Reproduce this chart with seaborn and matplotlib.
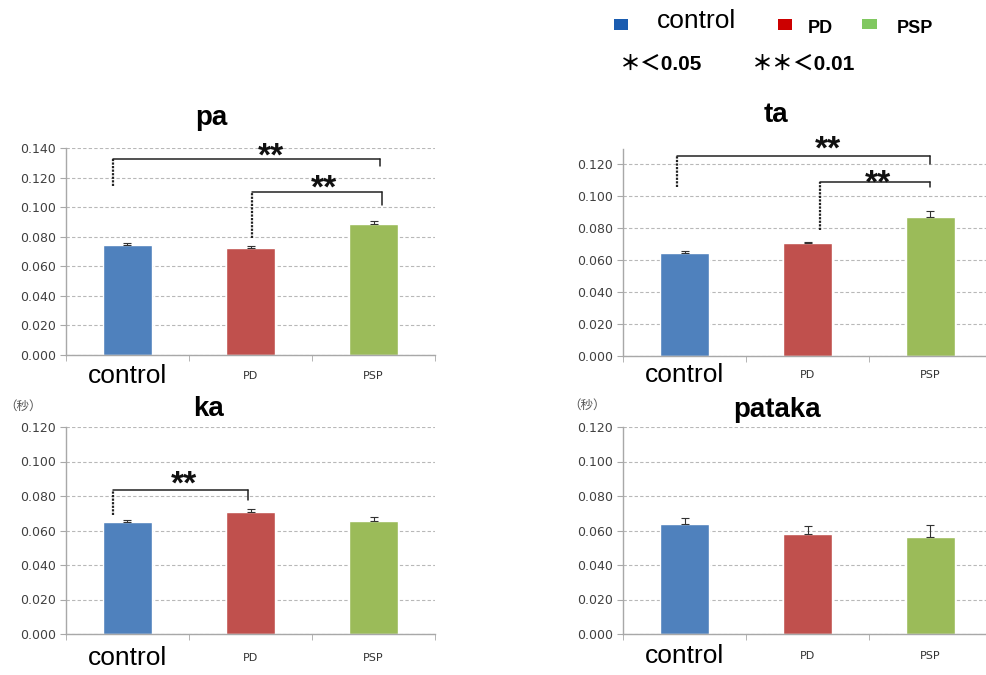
import numpy as np
import pandas as pd
import matplotlib
matplotlib.use("Agg")
import matplotlib.pyplot as plt
from matplotlib.patches import Rectangle
import seaborn as sns

### data (seconds)
groups = ["control", "PD", "PSP"]

pa_mean = [0.0744, 0.0726, 0.0884]
pa_err = [0.0014, 0.0010, 0.0022]
ta_mean = [0.0642, 0.0704, 0.0871]
ta_err = [0.0017, 0.0008, 0.0035]
ka_mean = [0.0647, 0.0707, 0.0655]
ka_err = [0.0012, 0.0016, 0.0025]
pataka_mean = [0.0640, 0.0580, 0.0564]
pataka_err = [0.0031, 0.0046, 0.0066]

### significance brackets: (x_left, x_right, y_top, left_leg_bottom, right_leg_bottom, star_x, star_y)
pa_sig = [(-0.12, 2.05, 0.1326, 0.114, 0.128, 1.17, 0.1384),
          (1.01, 2.07, 0.1102, 0.079, 0.1014, 1.60, 0.1170)]
ta_sig = [(-0.06, 2.00, 0.1252, 0.1054, 0.1200, 1.17, 0.1329),
          (1.10, 2.00, 0.1085, 0.0788, 0.1058, 1.57, 0.1117)]
ka_sig = [(-0.115, 0.98, 0.0835, 0.069, 0.0777, 0.46, 0.0904)]

bar_colors = ["#4F81BD", "#C0504D", "#9BBB59"]

sns.set_style("white")
plt.rcParams['font.family'] = ['Liberation Sans', 'Noto Sans CJK JP', 'DejaVu Sans']
plt.rcParams['text.color'] = 'black'

W, H = 987, 675
fig = plt.figure(figsize=(W / 100, H / 100), dpi=100)

def px(x, y):
    return x / W, 1 - y / H

def panel(rect, means, errs, ymax, yticks, sig, xpad):
    ax = fig.add_axes(rect)
    df = pd.DataFrame({"group": groups, "value": means})
    sns.barplot(data=df, x="group", y="value", hue="group", order=groups,
                palette=bar_colors, width=0.4, ax=ax, legend=False,
                errorbar=None, saturation=1)
    ax.errorbar(range(3), means, yerr=[[0, 0, 0], errs], fmt="none",
                ecolor="#333333", elinewidth=0.8, capsize=3, capthick=0.8)
    ax.set_xlim(-0.5, 2.5)
    ax.set_ylim(0, ymax)
    ax.set_yticks(yticks)
    ax.set_yticklabels(["%.3f" % t for t in yticks], fontsize=9,
                       color="#404040", family="DejaVu Sans")
    ax.grid(axis="y", linestyle=(0, (3, 2)), color="#b8b8b8", linewidth=0.8)
    ax.set_axisbelow(True)
    for s in ["top", "right"]:
        ax.spines[s].set_visible(False)
    for s in ["left", "bottom"]:
        ax.spines[s].set_color("#a8a8a8")
        ax.spines[s].set_linewidth(1.0)
    ax.set_xlabel("")
    ax.set_ylabel("")
    ax.set_xticks([0, 1, 2])
    ax.set_xticklabels(groups)
    ax.set_xticks([-0.5, 0.5, 1.5, 2.5], minor=True)
    ax.tick_params(axis="x", which="major", length=0, pad=xpad)
    ax.tick_params(axis="x", which="minor", length=4, color="#a8a8a8",
                   direction="out", bottom=True)
    ax.tick_params(axis="y", length=4, color="#a8a8a8", direction="out",
                   left=True, pad=3)
    for lab in ax.get_xticklabels():
        lab.set_va("center")
        if lab.get_text() == "control":
            lab.set_fontsize(19)
            lab.set_color("black")
        else:
            lab.set_fontsize(8)
            lab.set_color("#333333")
            lab.set_family("DejaVu Sans")
    for x1, x2, yt, yl, yr, sx, sy in sig:
        ax.plot([x1, x1], [yl, yt], color="#222222", lw=1.6,
                linestyle=(0, (1, 0.6)), solid_capstyle="butt", clip_on=False)
        ax.plot([x1, x2], [yt, yt], color="#222222", lw=1.1, clip_on=False)
        ax.plot([x2, x2], [yr, yt], color="#222222", lw=1.1, clip_on=False)
        ax.annotate("**", (sx, sy), xytext=(0, -5), textcoords="offset points",
                    ha="center", va="center", fontsize=24, annotation_clip=False,
                    fontweight="bold", color="#111111")
    return ax

ax_w = 369 / W
ax_h = 207 / H
panel([66 / W, 1 - 355 / H, ax_w, ax_h], pa_mean, pa_err, 0.14,
      np.arange(0, 0.141, 0.02), pa_sig, 15)
panel([623 / W, 1 - 356 / H, ax_w, 207 / H], ta_mean, ta_err, 0.1294,
      np.arange(0, 0.121, 0.02), ta_sig, 14)
panel([66 / W, 1 - 634 / H, ax_w, ax_h], ka_mean, ka_err, 0.12,
      np.arange(0, 0.121, 0.02), ka_sig, 17)
panel([623 / W, 1 - 634 / H, ax_w, ax_h], pataka_mean, pataka_err, 0.12,
      np.arange(0, 0.121, 0.02), [], 16)

### panel titles
for name, x, y in [("pa", 211, 125), ("ta", 776, 122), ("ka", 209, 416), ("pataka", 777, 417)]:
    fig.text(*px(x, y), name, ha="center", va="baseline", fontsize=20,
             fontweight="bold", color="black")

### unit labels
for x, y in [(23, 406), (587, 405)]:
    fig.text(*px(x, y), "（秒）", ha="center", va="center", fontsize=9,
             color="#555555", family=["Noto Sans CJK JP", "DejaVu Sans"])

### legend block
for (x0, y0, w, h), c in [((614, 19, 14, 11), "#1a5cb0"),
                          ((778, 19, 14, 11), "#cc0000"),
                          ((862, 19, 15, 10), "#80c860")]:
    fig.patches.append(Rectangle(px(x0, y0 + h), w / W, h / H, transform=fig.transFigure,
                                 facecolor=c, edgecolor="none"))
fig.text(*px(657, 28), "control", ha="left", va="baseline", fontsize=19)
fig.text(*px(808, 33), "PD", ha="left", va="baseline", fontsize=13, fontweight="bold")
fig.text(*px(897, 33), "PSP", ha="left", va="baseline", fontsize=13, fontweight="bold")
fig.text(*px(620, 70), "＊＜0.05", ha="left", va="baseline", fontsize=15, fontweight="bold",
         family=["Liberation Sans", "Noto Sans CJK JP", "DejaVu Sans"])
fig.text(*px(752, 70), "＊＊＜0.01", ha="left", va="baseline", fontsize=15, fontweight="bold",
         family=["Liberation Sans", "Noto Sans CJK JP", "DejaVu Sans"])

plt.savefig("out.png", dpi=100)
